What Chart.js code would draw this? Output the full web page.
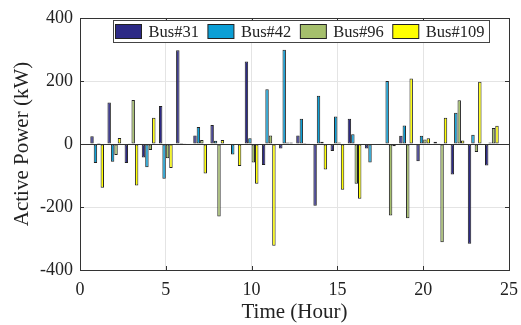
<!DOCTYPE html>
<html>
<head>
<meta charset="utf-8">
<script src="https://cdn.jsdelivr.net/npm/chart.js@4.4.0/dist/chart.umd.min.js"></script>
<style>
  html, body { margin: 0; padding: 0; background: #fff; }
  #wrap { width: 521px; height: 325px; }
</style>
</head>
<body>
<div id="wrap"><canvas id="c" width="521" height="325"></canvas></div>
<script>
// hourly active power per bus (kW)
const HOURS  = [1, 2, 3, 4, 5, 6, 7, 8, 9, 10, 11, 12, 13, 14, 15, 16, 17, 18, 19, 20, 21, 22, 23, 24];
const BUS31  = [25, 132, -60, -43, 121, 298, 27, 60, -3, 262, -67, -14, 27, -196, -22, 80, -14, 0, 26, -55, 7, -97, -317, -68];
const BUS42  = [-60, -56, 2, -74, -110, 3, 54, 10, -33, 18, 174, 299, 80, 153, 87, 31, -59, 200, 59, 26, 2, 99, 29, 5];
const BUS96  = [3, -35, 140, -19, -45, 2, 13, -230, -2, -59, 27, 5, 3, 7, 5, -126, 0, -227, -236, 14, -312, 139, -25, 51];
const BUS109 = [-139, 19, -132, 83, -76, 0, -94, 13, -70, -126, -323, 5, 1, -81, -145, -174, 0, -7, 208, 18, 83, 11, 198, 58];

const SERIES_NAMES  = ['Bus#31', 'Bus#42', 'Bus#96', 'Bus#109'];
const SERIES_VALUES = [BUS31, BUS42, BUS96, BUS109];
const COLORS = ['#2d2a86', '#0c9fd6', '#a5bf6c', '#ffff00'];

const X_TICKS = [0, 5, 10, 15, 20, 25];
const Y_TICKS = [-400, -200, 0, 200, 400];

const FONT = '"Liberation Serif", "Times New Roman", serif';
const AXIS_COLOR = '#333';

// box around the axes + inward ticks, like matlab
const axesBox = {
    id: 'axesBox',
    afterDatasetsDraw(chart) {
        const { ctx, chartArea: a, scales } = chart;
        ctx.save();
        ctx.strokeStyle = AXIS_COLOR;
        ctx.lineWidth = 1;
        // zero baseline
        const y0 = Math.round(scales.y.getPixelForValue(0)) + 0.5;
        ctx.beginPath();
        ctx.moveTo(a.left, y0); ctx.lineTo(a.right, y0);
        ctx.stroke();
        ctx.strokeRect(Math.round(a.left) + 0.5, Math.round(a.top) + 0.5,
                       Math.round(a.right - a.left), Math.round(a.bottom - a.top));
        ctx.beginPath();
        X_TICKS.forEach(v => {
            const x = Math.round(scales.x.getPixelForValue(v)) + 0.5;
            ctx.moveTo(x, a.bottom); ctx.lineTo(x, a.bottom - 4);
            ctx.moveTo(x, a.top);    ctx.lineTo(x, a.top + 4);
        });
        Y_TICKS.forEach(v => {
            const y = Math.round(scales.y.getPixelForValue(v)) + 0.5;
            ctx.moveTo(a.left, y);  ctx.lineTo(a.left + 4, y);
            ctx.moveTo(a.right, y); ctx.lineTo(a.right - 4, y);
        });
        ctx.stroke();
        ctx.restore();
    }
};

// one-row boxed legend sitting inside the top of the axes
const boxLegend = {
    id: 'boxLegend',
    afterDraw(chart) {
        const { ctx, chartArea: a } = chart;
        const swW = 26, swH = 14, gapIn = 7, gapOut = 9, pad = 2, h = 22;
        ctx.save();
        ctx.font = '16.5px ' + FONT;
        const widths = SERIES_NAMES.map(n => ctx.measureText(n).width);
        const total = pad * 2 + widths.reduce((s, w) => s + swW + gapIn + w + gapOut, 0) - gapOut + 3;
        const bx = Math.round(a.left + 33) + 0.5;
        const by = Math.round(a.top + 2) + 0.5;
        ctx.fillStyle = '#fff';
        ctx.fillRect(bx, by, total, h);
        ctx.strokeStyle = '#444';
        ctx.lineWidth = 1;
        ctx.strokeRect(bx, by, Math.round(total), h);
        let x = bx + pad;
        ctx.textBaseline = 'middle';
        SERIES_NAMES.forEach((n, i) => {
            ctx.fillStyle = COLORS[i];
            ctx.fillRect(x, by + 4, swW, swH);
            ctx.strokeStyle = '#222';
            ctx.strokeRect(x, by + 4, swW, swH);
            ctx.fillStyle = '#222';
            ctx.fillText(n, x + swW + gapIn, by + h / 2 + 1);
            x += swW + gapIn + widths[i] + gapOut;
        });
        ctx.restore();
    }
};

const datasets = SERIES_NAMES.map((name, i) => ({
    label: name,
    data: HOURS.map((h, j) => ({ x: h, y: SERIES_VALUES[i][j] })),
    backgroundColor: COLORS[i],
    borderColor: '#222',
    borderWidth: 1,
    borderSkipped: false,
    categoryPercentage: 0.8,
    barPercentage: 1.0,
}));

const gridX = c => {
    const v = c.tick ? c.tick.value : null;
    return (v === 0 || v === 25) ? 'rgba(0,0,0,0)' : '#e4e4e4';
};
const gridY = c => {
    const v = c.tick ? c.tick.value : null;
    return (v === -400 || v === 400) ? 'rgba(0,0,0,0)' : '#e4e4e4';
};

new Chart(document.getElementById('c'), {
    type: 'bar',
    data: { datasets },
    options: {
        responsive: false,
        animation: false,
        layout: { padding: { left: 0, right: 0, top: 18, bottom: 0 } },
        plugins: { legend: { display: false }, tooltip: { enabled: false } },
        scales: {
            x: {
                type: 'linear',
                min: 0, max: 25,
                offset: false,
                afterFit: s => { s.height = 55; s.paddingRight = 12; },
                grid: { color: gridX, drawTicks: false, offset: false },
                border: { display: false },
                ticks: { stepSize: 5, color: '#222', padding: 9, font: { family: FONT, size: 18 }, maxRotation: 0 },
                title: { display: true, text: 'Time (Hour)', color: '#222', padding: { top: 0, bottom: 0 }, font: { family: FONT, size: 21 } },
            },
            y: {
                min: -400, max: 400,
                afterFit: s => { s.width = 80; },
                grid: { color: gridY, drawTicks: false },
                border: { display: false },
                ticks: { stepSize: 200, color: '#222', padding: 7, font: { family: FONT, size: 18 } },
                title: { display: true, text: 'Active Power (kW)', color: '#222', padding: { top: 10, bottom: 0 }, font: { family: FONT, size: 21 } },
            },
        },
    },
    plugins: [axesBox, boxLegend],
});
</script>
</body>
</html>
